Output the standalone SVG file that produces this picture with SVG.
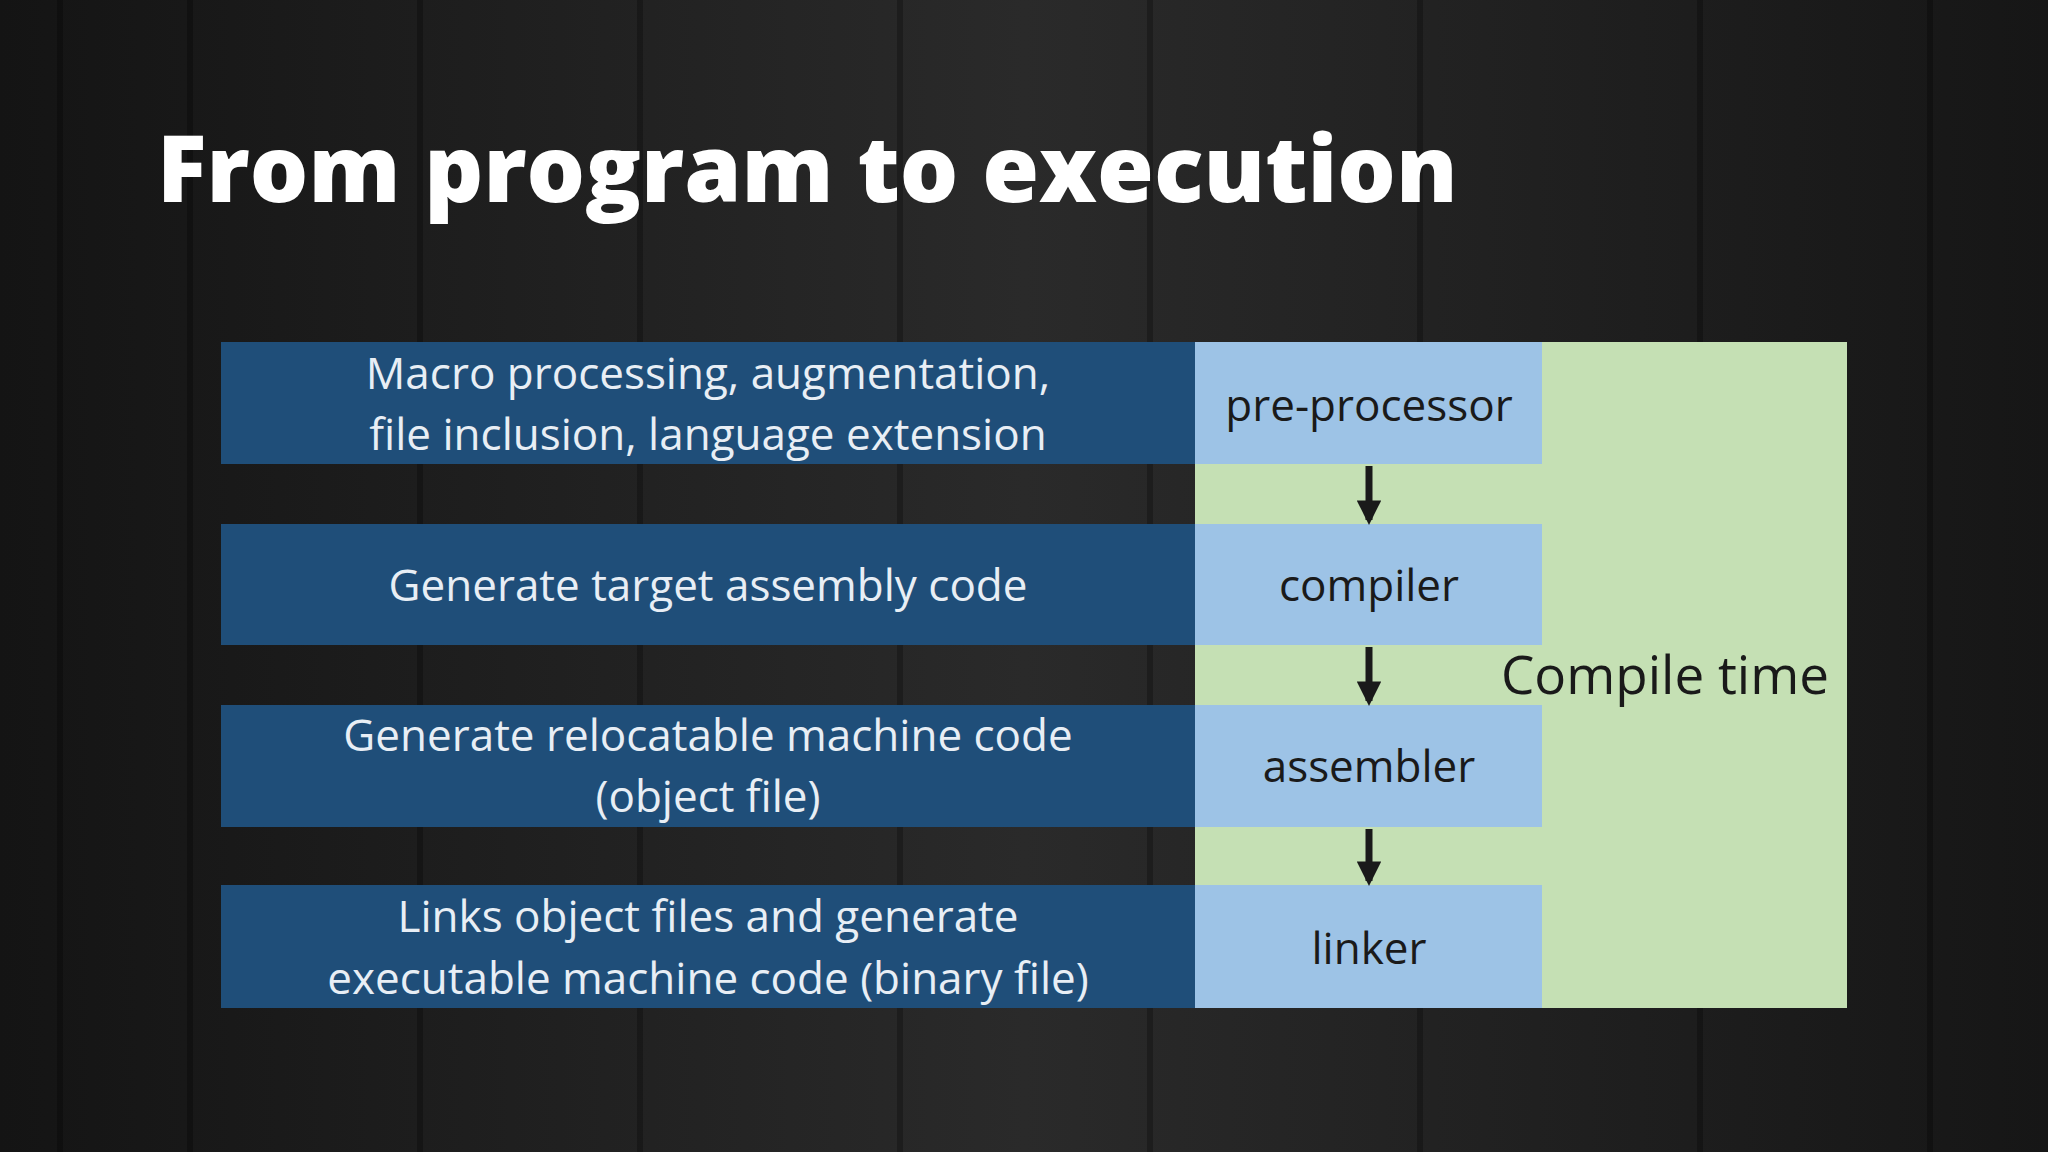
<svg xmlns="http://www.w3.org/2000/svg" width="2048" height="1152" viewBox="0 0 2048 1152">
<style>
.l{fill:#1f4e79}.r{fill:#9dc3e6}
.lt{font-family:"Open Sans","Noto Sans",sans-serif;font-size:44px;fill:#e8eef5;text-anchor:middle}
.rt{font-family:"Open Sans","Noto Sans",sans-serif;font-size:44px;fill:#1a1a1a;text-anchor:middle}
.c{stroke:#1a1a1a;stroke-width:7}
</style>
<defs>
<linearGradient id="bg" x1="0" x2="1"><stop offset="0" stop-color="#141414"/><stop offset="0.5" stop-color="#2a2a2a"/><stop offset="1" stop-color="#161616"/></linearGradient>
<marker id="a" viewBox="0 0 10 10" refX="8" refY="5" markerWidth="3.5" markerHeight="3.5" orient="auto"><path d="M0,0L10,5L0,10z" fill="#1a1a1a"/></marker>
</defs>
<rect width="2048" height="1152" fill="url(#bg)"/>
<g opacity="0.25" stroke="#000" stroke-width="6">
<path d="M60 0V1152M190 0V1152M420 0V1152M640 0V1152M900 0V1152M1150 0V1152M1420 0V1152M1700 0V1152M1930 0V1152"/>
</g>
<text x="157" y="202" font-family="Open Sans,sans-serif" font-weight="800" font-size="92" fill="#fff">From program to execution</text>
<g id="compile"><rect x="1195" y="342" width="652" height="666" fill="#c5e0b4"/><text x="1665" y="694" font-family="Open Sans,sans-serif" font-size="53" fill="#1a1a1a" text-anchor="middle">Compile time</text></g>
<g id="d1"><rect class="l" x="221" y="342" width="974" height="122"/><text class="lt" x="708" y="389">Macro processing, augmentation,</text><text class="lt" x="708" y="450">file inclusion, language extension</text></g>
<g id="d2"><rect class="l" x="221" y="524" width="974" height="121"/><text class="lt" x="708" y="601">Generate target assembly code</text></g>
<g id="d3"><rect class="l" x="221" y="705" width="974" height="122"/><text class="lt" x="708" y="751">Generate relocatable machine code</text><text class="lt" x="708" y="812">(object file)</text></g>
<g id="d4"><rect class="l" x="221" y="885" width="974" height="123"/><text class="lt" x="708" y="932">Links object files and generate</text><text class="lt" x="708" y="994">executable machine code (binary file)</text></g>
<g id="pre"><rect class="r" x="1195" y="342" width="347" height="122"/><text class="rt" x="1369" y="421">pre-processor</text></g>
<g id="comp"><rect class="r" x="1195" y="524" width="347" height="121"/><text class="rt" x="1369" y="601">compiler</text></g>
<g id="asm"><rect class="r" x="1195" y="705" width="347" height="122"/><text class="rt" x="1369" y="782">assembler</text></g>
<g id="link"><rect class="r" x="1195" y="885" width="347" height="123"/><text class="rt" x="1369" y="964">linker</text></g>
<g id="connectors">
<line class="c" x1="1369" y1="466" x2="1369" y2="520" marker-end="url(#a)"/>
<line class="c" x1="1369" y1="647" x2="1369" y2="701" marker-end="url(#a)"/>
<line class="c" x1="1369" y1="829" x2="1369" y2="881" marker-end="url(#a)"/>
</g>
</svg>
